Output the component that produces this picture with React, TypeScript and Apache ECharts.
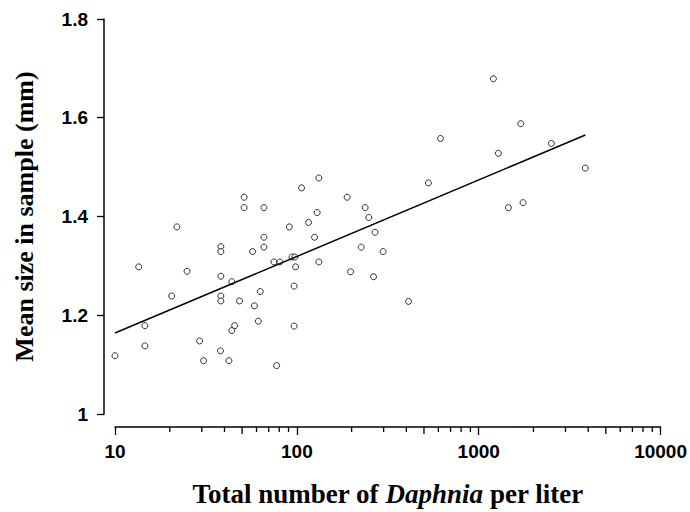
import React, { useEffect, useRef } from "react";
import * as echarts from "echarts";

// Total number of Daphnia per liter (x) and mean size in sample, mm (y)
const densities = [
  10.0, 13.5, 14.6, 14.6, 20.5, 21.9, 24.9, 29.2, 30.7,
  38.2, 38.2, 38.2, 38.2, 38.2, 38.0, 42.3, 43.9, 43.9, 45.5, 48.4,
  51.3, 51.3, 57.1, 58.4, 61.4, 62.9, 65.9, 65.9, 65.9,
  74.8, 80.7, 77.4, 90.9, 94.0, 97.5, 98.4, 96.6, 96.6,
  106.1, 116.0, 125.1, 129.3, 132.1, 132.1,
  189.0, 197.3, 225.6, 237.3, 248.6, 263.9, 269.3, 298.0,
  410.9, 529.1, 616.0, 1204, 1283, 1456, 1702, 1752, 2509, 3857,
];
const meanSizes = [
  1.118, 1.298, 1.179, 1.138, 1.239, 1.379, 1.289, 1.148, 1.108,
  1.339, 1.329, 1.279, 1.239, 1.229, 1.128, 1.108, 1.268, 1.169, 1.179, 1.229,
  1.439, 1.418, 1.329, 1.219, 1.188, 1.248, 1.418, 1.358, 1.338,
  1.308, 1.308, 1.098, 1.379, 1.318, 1.318, 1.298, 1.259, 1.178,
  1.458, 1.388, 1.358, 1.408, 1.478, 1.308,
  1.439, 1.288, 1.338, 1.418, 1.398, 1.278, 1.368, 1.329,
  1.228, 1.468, 1.558, 1.679, 1.528, 1.418, 1.588, 1.428, 1.548, 1.498,
];

// Fitted regression line end points
const fitX = [10, 3857];
const fitY = [1.164, 1.565];

// Axis ticks
const xMin = 10;
const xMax = 10000;
const yMin = 1;
const yMax = 1.8;
const yInterval = 0.2;
const minorTicks = [20, 30, 40, 60, 70, 80, 90, 200, 300, 400, 600, 700, 800, 900, 2000, 3000, 4000, 6000, 7000, 8000, 9000];
const midTicks = [50, 500, 5000];

const X_AXIS_OFFSET = 13;

export default function App() {
  const ref = useRef<HTMLDivElement>(null);

  useEffect(() => {
    if (!ref.current) return;
    const chart = echarts.init(ref.current, undefined, { renderer: "svg" });

    const tickSeries = (values: number[], len: number) => ({
      type: "custom",
      clip: false,
      silent: true,
      z: 1,
      data: values.map((v) => [v, yMin]),
      renderItem: (params: any, api: any) => {
        const p = api.coord([api.value(0), yMin]);
        const y0 = p[1] + X_AXIS_OFFSET;
        return {
          type: "line",
          shape: { x1: p[0], y1: y0, x2: p[0], y2: y0 + len },
          style: { stroke: "#000", lineWidth: 1.3 },
        };
      },
    });

    const serif = "Liberation Serif, Times New Roman, serif";
    const sans = "Liberation Sans, Arial, sans-serif";

    chart.setOption({
      animation: false,
      backgroundColor: "#fff",
      grid: { left: 115, right: 29, top: 19, bottom: 98, containLabel: false },
      xAxis: {
        type: "log",
        logBase: 10,
        min: xMin,
        max: xMax,
        offset: X_AXIS_OFFSET,
        splitLine: { show: false },
        axisLine: { show: true, onZero: false, lineStyle: { color: "#000", width: 1.5 } },
        axisTick: { show: true, length: 8, lineStyle: { color: "#000", width: 1.3 } },
        minorTick: { show: false },
        axisLabel: {
          color: "#000",
          fontFamily: sans,
          fontWeight: "bold",
          fontSize: 19,
          margin: 15,
          formatter: (v: number) => String(Math.round(v)),
        },
        name: "{b|Total number of }{i|Daphnia}{b| per liter}",
        nameLocation: "middle",
        nameGap: 53,
        nameTextStyle: {
          rich: {
            b: { fontFamily: serif, fontWeight: "bold", fontSize: 27, color: "#000" },
            i: { fontFamily: serif, fontWeight: "bold", fontStyle: "italic", fontSize: 27, color: "#000" },
          },
        },
      },
      yAxis: {
        type: "value",
        min: yMin,
        max: yMax,
        interval: yInterval,
        offset: 11,
        splitLine: { show: false },
        axisLine: { show: true, onZero: false, lineStyle: { color: "#000", width: 1.5 } },
        axisTick: { show: true, length: 7, lineStyle: { color: "#000", width: 1.3 } },
        axisLabel: {
          color: "#000",
          fontFamily: sans,
          fontWeight: "bold",
          fontSize: 19,
          margin: 16,
        },
        name: "Mean size in sample (mm)",
        nameLocation: "middle",
        nameGap: 67,
        nameTextStyle: {
          fontFamily: serif,
          fontWeight: "bold",
          fontSize: 26,
          color: "#000",
        },
      },
      series: [
        {
          type: "scatter",
          data: densities.map((d, i) => [d, meanSizes[i]]),
          symbol: "circle",
          symbolSize: 6,
          itemStyle: { color: "#fff", borderColor: "#000", borderWidth: 1 },
          z: 2,
        },
        {
          type: "line",
          data: fitX.map((x, i) => [x, fitY[i]]),
          showSymbol: false,
          symbol: "none",
          lineStyle: { color: "#000", width: 1.5 },
          z: 3,
        },
        tickSeries(minorTicks, 5),
        tickSeries(midTicks, 7),
      ],
    });

    return () => chart.dispose();
  }, []);

  return (
    <div
      ref={ref}
      style={{ position: "fixed", left: 0, top: 0, width: 690, height: 512, background: "#fff" }}
    />
  );
}
